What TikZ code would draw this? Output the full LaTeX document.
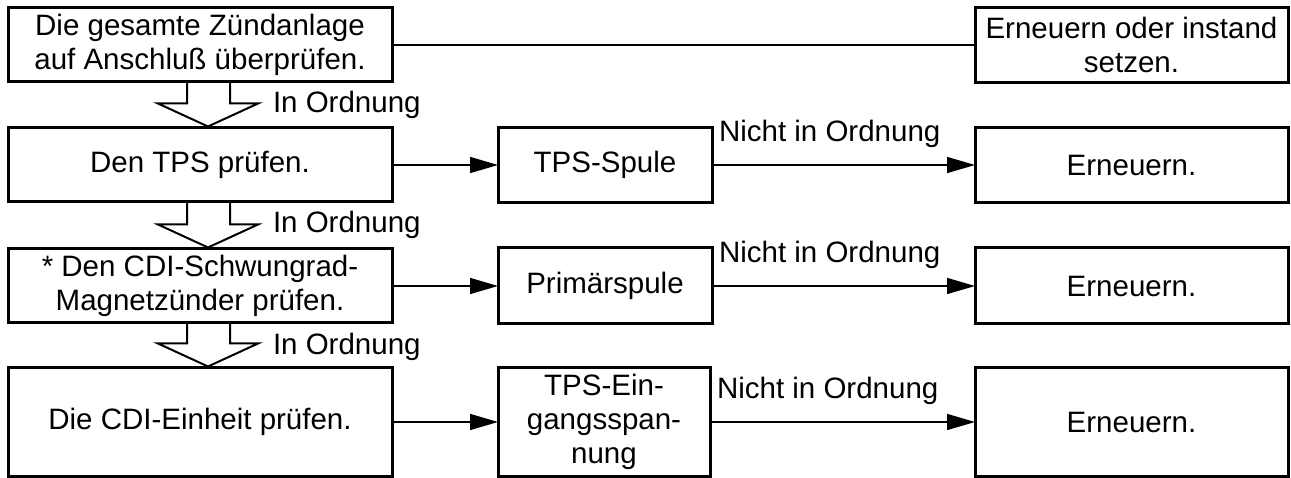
\documentclass[tikz,border=0pt]{standalone}
\usepackage{fontspec}
\setmainfont{Liberation Sans}
\usetikzlibrary{arrows.meta,calc}
\tikzset{
  boxnode/.style={draw=black, line width=3pt, inner sep=0pt, outer sep=0pt, align=center, font=\fontsize{29.5}{34}\selectfont},
  conn/.style={line width=1.5pt, draw=black},
  arrconn/.style={conn, -{Triangle[length=28pt,width=16pt]}},
  hollow/.style={draw=black, line width=2pt, line join=miter},
  lbl/.style={inner sep=0pt, outer sep=0pt, font=\fontsize{29.5}{34}\selectfont}
}
\newcommand\hollowarrow[2]{%
  \draw[hollow] ($(#1.south west)+(179,0)$) -- ($(#2.north west)+(179,-24.5)$)
    -- ($(#2.north west)+(150,-24.5)$) -- ($(#2.north west)+(200,-1.5)$)
    -- ($(#2.north west)+(250,-24.5)$) -- ($(#2.north west)+(222,-24.5)$)
    -- ($(#1.south west)+(222,0)$);}
\begin{document}
\begin{tikzpicture}[x=1pt,y=-1pt]
\path[fill=white, use as bounding box] (0,0) rectangle (1291,478);
% left column
\node[boxnode, minimum width=384pt, minimum height=74pt] (b1) at (200,45) {Die gesamte Zündanlage\\auf Anschluß überprüfen.};
\node[boxnode, minimum width=384pt, minimum height=74pt] (b2) at (200,165) {Den TPS prüfen.};
\node[boxnode, minimum width=384pt, minimum height=74pt] (b3) at (200,286) {* Den CDI-Schwungrad-\\Magnetzünder prüfen.};
\node[boxnode, minimum width=384pt, minimum height=108pt] (b4) at (200,422) {Die CDI-Einheit prüfen.};
% middle column
\node[boxnode, minimum width=214pt, minimum height=75pt] (m2) at (605,165) {TPS-Spule};
\node[boxnode, minimum width=214pt, minimum height=76pt] (m3) at (605,286) {Primärspule};
\node[boxnode, minimum width=212pt, minimum height=108pt] (m4) at (604,422) {TPS-Ein-\\gangsspan-\\nung};
% right column
\node[boxnode, minimum width=313pt, minimum height=75pt] (r1) at (1131.5,45) {Erneuern oder instand\\setzen.};
\node[boxnode, minimum width=313pt, minimum height=75pt] (r2) at (1131.5,165) {Erneuern.};
\node[boxnode, minimum width=313pt, minimum height=76pt] (r3) at (1131.5,286) {Erneuern.};
\node[boxnode, minimum width=313pt, minimum height=108pt] (r4) at (1131.5,422) {Erneuern.};
% connectors
\draw[conn] (b1.east) -- (r1.west);
\draw[arrconn] (b2.east) -- (m2.west);
\draw[arrconn] (b3.east) -- (m3.west);
\draw[arrconn] (b4.east) -- (m4.west);
\draw[arrconn] (m2.east) -- (r2.west);
\draw[arrconn] (m3.east) -- (r3.west);
\draw[arrconn] (m4.east) -- (r4.west);
\node[lbl, anchor=base west] (n2) at ($(m2.east)+(7,-23)$) {Nicht in Ordnung};
\node[lbl, anchor=base west] (n3) at ($(m3.east)+(7,-23)$) {Nicht in Ordnung};
\node[lbl, anchor=base west] (n4) at ($(m4.east)+(7,-23)$) {Nicht in Ordnung};
% hollow arrows
\hollowarrow{b1}{b2}
\hollowarrow{b2}{b3}
\hollowarrow{b3}{b4}
\node[lbl, anchor=base west] (o1) at ($(b1.south west)+(265,31)$) {In Ordnung};
\node[lbl, anchor=base west] (o2) at ($(b2.south west)+(265,31)$) {In Ordnung};
\node[lbl, anchor=base west] (o3) at ($(b3.south west)+(265,32)$) {In Ordnung};
\end{tikzpicture}
\end{document}
